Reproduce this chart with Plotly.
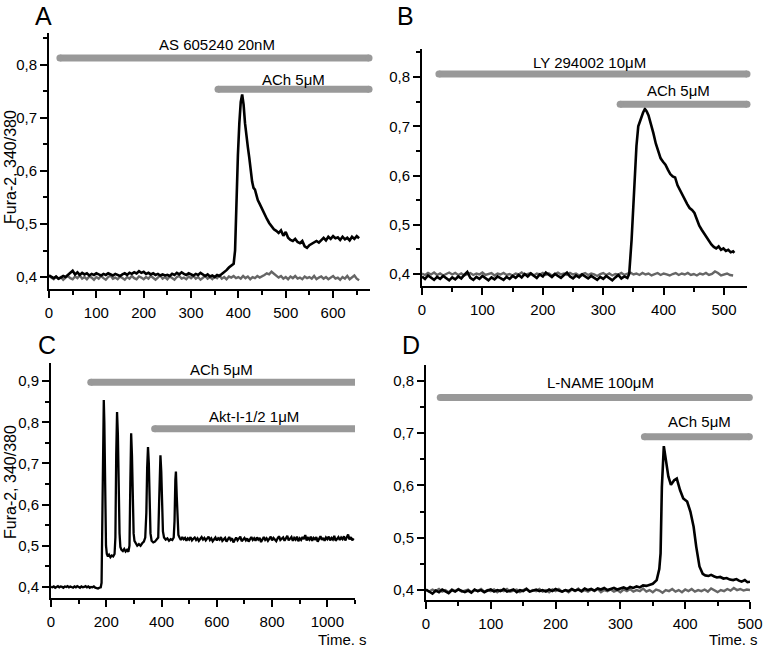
import plotly.graph_objects as go

# ---------------- DATA ----------------
# Panel A
a_black_t = [0,5,10,15,20,25,30,35,40,45,50,55,60,65,70,75,80,85,90,95,
             100,105,110,115,120,125,130,135,140,145,150,155,160,165,170,175,180,185,190,195,
             200,205,210,215,220,225,230,235,240,245,250,255,260,265,270,275,280,285,290,295,
             300,305,310,315,320,325,330,335,340,345,350,355,360,365,370,375,380,385,
             390,393,396,399,402,405,408,411,414,417,420,423,426,429,432,435,438,441,445,450,
             455,460,465,470,475,480,485,490,495,500,505,510,515,520,525,530,535,540,545,550,
             555,560,565,570,575,580,585,590,595,600,605,610,615,620,625,630,635,640,645,650,655]
a_black_v = [0.403,0.400,0.398,0.401,0.397,0.399,0.402,0.400,0.404,0.407,0.412,0.405,0.409,0.404,0.408,0.405,0.407,0.403,0.406,0.404,
             0.407,0.405,0.403,0.406,0.404,0.407,0.405,0.403,0.406,0.404,0.402,0.405,0.407,0.404,0.408,0.406,0.409,0.407,0.411,0.408,
             0.410,0.406,0.408,0.405,0.407,0.404,0.406,0.403,0.405,0.403,0.404,0.402,0.406,0.404,0.408,0.405,0.409,0.406,0.404,0.407,
             0.405,0.403,0.406,0.404,0.408,0.405,0.402,0.405,0.401,0.403,0.400,0.404,0.402,0.406,0.409,0.413,0.418,0.422,
             0.425,0.450,0.550,0.630,0.690,0.730,0.744,0.725,0.690,0.660,0.645,0.625,0.600,0.580,0.568,0.565,0.555,0.545,0.538,0.528,
             0.520,0.510,0.502,0.495,0.490,0.487,0.483,0.488,0.478,0.485,0.474,0.470,0.468,0.472,0.466,0.464,0.468,0.458,0.455,0.460,
             0.463,0.466,0.468,0.465,0.470,0.474,0.469,0.476,0.472,0.477,0.473,0.475,0.470,0.476,0.471,0.474,0.469,0.476,0.472,0.477,0.473]
a_gray_t = list(range(0, 656, 5))
a_gray_v = [0.402,0.399,0.396,0.401,0.397,0.400,0.395,0.399,0.402,0.398,
            0.396,0.401,0.398,0.403,0.397,0.400,0.396,0.401,0.399,0.395,
            0.400,0.397,0.402,0.398,0.395,0.400,0.403,0.397,0.399,0.396,
            0.401,0.398,0.395,0.400,0.397,0.402,0.398,0.396,0.401,0.399,
            0.396,0.400,0.397,0.402,0.398,0.395,0.399,0.403,0.397,0.400,
            0.396,0.401,0.398,0.395,0.400,0.402,0.397,0.399,0.396,0.401,
            0.398,0.402,0.397,0.400,0.395,0.399,0.402,0.397,0.400,0.396,
            0.401,0.398,0.403,0.397,0.400,0.396,0.401,0.399,0.402,0.398,
            0.400,0.397,0.402,0.398,0.401,0.396,0.400,0.398,0.402,0.399,
            0.401,0.404,0.407,0.405,0.410,0.406,0.403,0.399,0.402,0.397,
            0.400,0.396,0.401,0.398,0.402,0.397,0.399,0.396,0.401,0.398,
            0.400,0.397,0.402,0.396,0.399,0.401,0.397,0.400,0.396,0.399,
            0.402,0.397,0.399,0.395,0.400,0.397,0.402,0.396,0.399,0.403,
            0.397,0.394]

# Panel B
b_black_t = [0,5,10,15,20,25,30,35,40,45,50,55,60,65,70,75,80,85,90,95,
             100,105,110,115,120,125,130,135,140,145,150,155,160,165,170,175,180,185,190,195,
             200,205,210,215,220,225,230,235,240,245,250,255,260,265,270,275,280,285,290,295,
             300,305,310,315,320,325,330,335,340,
             343,347,351,355,358,362,366,369,372,375,379,383,387,391,395,399,403,407,411,415,
             419,423,427,431,435,439,443,447,451,455,459,463,467,471,475,479,483,487,491,495,
             499,503,507,511,515,517]
b_black_v = [0.395,0.390,0.397,0.392,0.388,0.394,0.390,0.396,0.391,0.387,0.393,0.389,0.395,0.391,0.398,0.404,0.392,0.388,0.394,0.390,
             0.396,0.391,0.387,0.393,0.389,0.395,0.392,0.388,0.394,0.390,0.396,0.392,0.398,0.393,0.400,0.395,0.401,0.396,0.392,0.399,
             0.395,0.403,0.398,0.394,0.400,0.396,0.392,0.398,0.403,0.395,0.391,0.397,0.393,0.399,0.395,0.391,0.396,0.392,0.388,0.394,
             0.390,0.396,0.392,0.387,0.393,0.398,0.391,0.395,0.392,
             0.400,0.470,0.570,0.660,0.700,0.715,0.728,0.735,0.730,0.722,0.705,0.686,0.665,0.648,0.635,0.628,0.622,0.612,0.603,0.598,
             0.596,0.580,0.570,0.560,0.550,0.542,0.534,0.530,0.524,0.510,0.498,0.490,0.482,0.476,0.468,0.460,0.455,0.452,0.456,0.449,
             0.452,0.447,0.449,0.444,0.446,0.443]
b_gray_t = list(range(0, 516, 5))
b_gray_v = [0.401,0.398,0.402,0.399,0.403,0.398,0.401,0.397,0.400,0.403,
            0.399,0.402,0.398,0.401,0.397,0.400,0.402,0.398,0.401,0.399,
            0.403,0.398,0.400,0.402,0.397,0.401,0.399,0.402,0.398,0.400,
            0.397,0.401,0.399,0.403,0.398,0.400,0.402,0.397,0.401,0.399,
            0.402,0.398,0.401,0.397,0.400,0.403,0.399,0.401,0.398,0.402,
            0.399,0.401,0.397,0.400,0.402,0.398,0.401,0.399,0.396,0.400,
            0.402,0.398,0.401,0.397,0.400,0.399,0.402,0.398,0.401,0.403,
            0.399,0.401,0.398,0.402,0.399,0.401,0.397,0.400,0.402,0.398,
            0.401,0.399,0.397,0.400,0.402,0.398,0.401,0.399,0.402,0.398,
            0.400,0.397,0.401,0.399,0.402,0.398,0.400,0.405,0.402,0.397,
            0.399,0.401,0.398,0.397]

# Panel C
c_black_t = [0,5,10,15,20,25,30,35,40,45,50,55,60,65,70,75,80,85,90,95,
             100,105,110,115,120,125,130,135,140,145,150,155,160,165,170,175,180,
             183,186,189,191,193,195,197,199,202,206,210,215,220,225,230,233,236,239,242,
             245,248,251,255,260,265,270,275,280,284,287,290,293,296,299,302,307,312,318,324,
             330,336,341,345,348,351,354,357,360,364,370,376,382,388,391,394,396,399,402,405,
             409,415,421,427,433,439,444,447,450,452,455,458,461,465,
             470,475,480,485,490,495,500,505,510,515,520,525,530,535,540,545,550,555,560,565,
             570,575,580,585,590,595,600,605,610,615,620,625,630,635,640,645,650,655,660,665,
             670,675,680,685,690,695,700,705,710,715,720,725,730,735,740,745,750,755,760,765,
             770,775,780,785,790,795,800,805,810,815,820,825,830,835,840,845,850,855,860,865,
             870,875,880,885,890,895,900,905,910,915,920,925,930,935,940,945,950,955,960,965,
             970,975,980,985,990,995,1000,1005,1010,1015,1020,1025,1030,1035,1040,1045,1050,1055,1060,1065,
             1070,1075,1080,1085,1090,1095]
c_black_v = [0.400,0.399,0.401,0.398,0.400,0.402,0.399,0.401,0.400,0.398,0.401,0.400,0.402,0.399,0.401,0.400,0.398,0.401,0.399,0.402,
             0.400,0.398,0.401,0.399,0.400,0.402,0.399,0.401,0.398,0.400,0.399,0.401,0.398,0.397,0.396,0.398,0.399,
             0.410,0.600,0.800,0.854,0.800,0.660,0.550,0.500,0.480,0.474,0.478,0.472,0.476,0.474,0.480,0.520,0.720,0.825,0.770,
             0.630,0.530,0.497,0.490,0.487,0.492,0.486,0.490,0.485,0.500,0.650,0.773,0.720,0.600,0.530,0.512,0.505,0.500,0.504,0.500,
             0.506,0.510,0.520,0.580,0.690,0.740,0.700,0.590,0.530,0.512,0.508,0.510,0.514,0.520,0.600,0.700,0.720,0.680,0.580,0.535,
             0.520,0.515,0.518,0.512,0.516,0.514,0.520,0.560,0.660,0.680,0.620,0.550,0.526,0.520,
             0.514,0.521,0.516,0.519,0.512,0.518,0.515,0.521,0.513,0.517,0.520,0.514,0.518,0.512,0.516,0.521,0.515,0.519,0.513,0.517,
             0.522,0.514,0.518,0.511,0.516,0.520,0.513,0.518,0.515,0.521,0.512,0.517,0.519,0.510,0.516,0.521,0.514,0.518,0.508,0.515,
             0.520,0.513,0.517,0.522,0.511,0.516,0.519,0.513,0.518,0.510,0.516,0.521,0.514,0.518,0.512,0.520,0.515,0.519,0.509,0.516,
             0.521,0.514,0.518,0.512,0.517,0.522,0.513,0.519,0.515,0.511,0.518,0.523,0.514,0.517,0.520,0.512,0.518,0.524,0.513,0.517,
             0.521,0.512,0.519,0.515,0.522,0.511,0.518,0.514,0.521,0.516,0.526,0.513,0.519,0.515,0.522,0.512,0.519,0.516,0.521,0.510,
             0.518,0.523,0.514,0.519,0.512,0.520,0.516,0.522,0.513,0.519,0.515,0.524,0.512,0.518,0.521,0.514,0.520,0.516,0.523,0.513,
             0.519,0.527,0.515,0.521,0.513,0.518]

# Panel D
d_black_t = [0,5,10,15,20,25,30,35,40,45,50,55,60,65,70,75,80,85,90,95,
             100,105,110,115,120,125,130,135,140,145,150,155,160,165,170,175,180,185,190,195,
             200,205,210,215,220,225,230,235,240,245,250,255,260,265,270,275,280,285,290,295,
             300,305,310,315,320,325,330,335,340,345,350,356,360,362,364,367,371,374,378,383,
             387,392,397,403,408,413,417,422,427,431,436,440,445,449,454,459,464,469,474,479,
             483,487,492,496,500]
d_black_v = [0.401,0.397,0.393,0.399,0.396,0.401,0.398,0.394,0.400,0.397,0.401,0.398,0.396,0.399,0.395,0.401,0.398,0.400,0.396,0.399,
             0.401,0.397,0.400,0.398,0.402,0.397,0.399,0.401,0.396,0.400,0.398,0.402,0.397,0.399,0.401,0.398,0.400,0.397,0.401,0.398,
             0.402,0.399,0.397,0.400,0.398,0.402,0.399,0.401,0.398,0.403,0.400,0.402,0.399,0.403,0.401,0.404,0.400,0.402,0.404,0.401,
             0.403,0.405,0.402,0.406,0.404,0.407,0.405,0.409,0.408,0.410,0.412,0.419,0.440,0.470,0.597,0.675,0.642,0.617,0.601,0.610,
             0.613,0.591,0.575,0.569,0.550,0.521,0.483,0.445,0.431,0.428,0.427,0.429,0.426,0.424,0.425,0.422,0.423,0.420,0.419,0.421,
             0.418,0.416,0.419,0.415,0.416]
d_gray_t = list(range(0, 501, 5))
d_gray_v = [0.400,0.397,0.401,0.398,0.402,0.397,0.400,0.396,0.401,0.398,
            0.402,0.397,0.399,0.401,0.396,0.400,0.398,0.402,0.397,0.400,
            0.398,0.401,0.396,0.400,0.398,0.402,0.397,0.399,0.401,0.396,
            0.400,0.403,0.397,0.400,0.398,0.402,0.397,0.400,0.396,0.401,
            0.398,0.402,0.397,0.400,0.396,0.401,0.398,0.403,0.397,0.400,
            0.397,0.401,0.398,0.402,0.396,0.400,0.398,0.401,0.397,0.400,
            0.396,0.401,0.398,0.402,0.397,0.400,0.398,0.403,0.397,0.400,
            0.396,0.401,0.399,0.395,0.400,0.398,0.402,0.397,0.400,0.396,
            0.401,0.398,0.402,0.397,0.400,0.398,0.401,0.397,0.403,0.399,
            0.396,0.400,0.398,0.402,0.399,0.404,0.400,0.402,0.399,0.401,
            0.400]

# Treatment bars: (panel, label, x_start, x_end, y_bar, y_label, x_label)
bars = [
    ("A", "AS 605240 20nM", 23, 676, 0.813, 0.839, 355),
    ("A", "ACh 5μM", 357, 676, 0.754, 0.772, 516),
    ("B", "LY 294002 10μM", 28, 538, 0.806, 0.830, 278),
    ("B", "ACh 5μM", 328, 538, 0.745, 0.772, 424),
    ("C", "ACh 5μM", 144, 1105, 0.897, 0.927, 617),
    ("C", "Akt-I-1/2 1μM", 375, 1105, 0.784, 0.813, 736),
    ("D", "L-NAME 100μM", 22, 499, 0.768, 0.796, 270),
    ("D", "ACh 5μM", 337, 499, 0.693, 0.722, 422),
]

# ---------------- FIGURE ----------------
W, H = 766, 649
panels = {
    # key: (axis suffix, x px range, y px range, x range, y range, dtick, minor dtick)
    "A": ("", (49, 370), (33, 289), (0, 678), (0.3775, 0.86), 100, 50),
    "B": ("2", (422, 747), (49, 286), (0, 538), (0.3756, 0.857), 100, 50),
    "C": ("3", (51, 355), (363, 598), (0, 1100), (0.373, 0.944), 200, 100),
    "D": ("4", (426, 750), (365, 600), (0, 500), (0.381, 0.83), 100, 50),
}

fig = go.Figure()
FONT = "Liberation Sans, Arial, sans-serif"
BLACK_W = 2.6
GRAY_C = "#666666"
BAR_C = "#999999"

def add_line(key, t, v, color, width):
    s = panels[key][0]
    fig.add_trace(go.Scatter(x=t, y=v, mode="lines", line=dict(color=color, width=width),
                             xaxis="x" + s, yaxis="y" + s, showlegend=False, hoverinfo="skip"))

add_line("A", a_gray_t, a_gray_v, GRAY_C, 2.4)
add_line("A", a_black_t, a_black_v, "black", BLACK_W)
add_line("B", b_gray_t, b_gray_v, GRAY_C, 2.4)
add_line("B", b_black_t, b_black_v, "black", BLACK_W)
add_line("C", c_black_t, c_black_v, "black", 2.3)
add_line("D", d_gray_t, d_gray_v, GRAY_C, 2.4)
add_line("D", d_black_t, d_black_v, "black", BLACK_W)

annotations = []
for key, label, x0, x1, yb, yl, xl in bars:
    s = panels[key][0]
    fig.add_trace(go.Scatter(x=[x0, x1], y=[yb, yb], mode="lines+markers",
                             line=dict(color=BAR_C, width=7),
                             marker=dict(color=BAR_C, size=7),
                             xaxis="x" + s, yaxis="y" + s, showlegend=False,
                             hoverinfo="skip", cliponaxis=False))
    annotations.append(dict(x=xl, y=yl, xref="x" + s, yref="y" + s, text=label,
                            showarrow=False, font=dict(size=15, color="black", family=FONT)))

layout = dict(width=W, height=H, margin=dict(l=0, r=0, t=0, b=0, autoexpand=False),
              paper_bgcolor="white", plot_bgcolor="white", separators=",.",
              font=dict(family=FONT, size=15, color="black"))

for key, (s, (px0, px1), (py0, py1), xr, yr, dt, mdt) in panels.items():
    xa = dict(domain=[px0 / W, px1 / W], range=list(xr), anchor="y" + s, automargin=False,
              showline=True, linecolor="black", linewidth=2, showgrid=False, zeroline=False,
              ticks="outside", ticklen=7, tickwidth=1.5, tickcolor="black",
              tick0=0, dtick=dt, tickfont=dict(size=15, family=FONT), ticklabelstandoff=2,
              minor=dict(ticks="outside", ticklen=4, tickwidth=1.5, tickcolor="black",
                         dtick=mdt, tick0=0, showgrid=False))
    ya = dict(domain=[1 - py1 / H, 1 - py0 / H], range=list(yr), anchor="x" + s, automargin=False,
              showline=True, linecolor="black", linewidth=2, showgrid=False, zeroline=False,
              ticks="outside", ticklen=7, tickwidth=1.5, tickcolor="black",
              tick0=0.4, dtick=0.1, tickformat=".1f", tickfont=dict(size=15, family=FONT),
              minor=dict(ticks="outside", ticklen=4, tickwidth=1.5, tickcolor="black",
                         dtick=0.05, tick0=0.4, showgrid=False))
    layout["xaxis" + s] = xa
    layout["yaxis" + s] = ya

def paper(px, py):
    return px / W, 1 - py / H

for letter, (px, py) in {"A": (43, 16), "B": (405, 16), "C": (47, 345), "D": (411, 345)}.items():
    x, y = paper(px, py)
    annotations.append(dict(x=x, y=y, xref="paper", yref="paper", text=letter, showarrow=False,
                            xanchor="center", yanchor="middle",
                            font=dict(size=25, color="black", family=FONT)))

for (px, py) in [(10, 167), (10, 482)]:
    x, y = paper(px, py)
    annotations.append(dict(x=x, y=y, xref="paper", yref="paper", text="Fura-2, 340/380",
                            showarrow=False, textangle=-90, xanchor="center", yanchor="middle",
                            font=dict(size=16, color="black", family=FONT)))

for (px, py) in [(342, 639), (733, 639)]:
    x, y = paper(px, py)
    annotations.append(dict(x=x, y=y, xref="paper", yref="paper", text="Time. s",
                            showarrow=False, xanchor="center", yanchor="middle", borderpad=0,
                            font=dict(size=15, color="black", family=FONT)))

layout["annotations"] = annotations
fig.update_layout(**layout)
fig.write_html("out.html", config={"displayModeBar": False})

# remove the browser's default page margin so the figure sits at the window's top-left
with open("out.html", "r", encoding="utf-8") as f:
    html = f.read()
html = html.replace("<body>", '<body style="margin:0;padding:0;overflow:hidden">', 1)
with open("out.html", "w", encoding="utf-8") as f:
    f.write(html)
